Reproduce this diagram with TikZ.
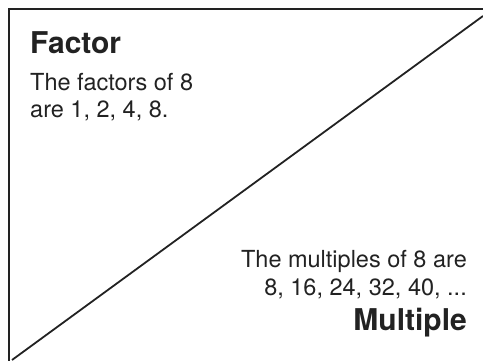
\documentclass[tikz,border=0pt]{standalone}
\usepackage{fontspec}
\setmainfont{TeX Gyre Heros}
\definecolor{ink}{HTML}{222222}
\begin{document}
\begin{tikzpicture}[x=1pt, y=1pt,
        txt/.style={text=ink, font=\fontsize{23.5}{27}\selectfont, inner sep=0pt, align=left},
        ttl/.style={text=ink, font=\fontsize{30}{34}\selectfont\bfseries, inner sep=0pt}]
    \useasboundingbox (0,0) rectangle (483,360);
    \clip (0,0) rectangle (483,360);
    % ── marco y diagonal ──────────────────────────
    \coordinate (bl) at (12,0);
    \coordinate (tr) at (483,344);
    \draw[ink, line width=2.2pt] (9,-5) rectangle (492,351);
    \draw[ink, line width=1.8pt] (bl) -- (tr);
    % ── factor ──────────────────────────
    \node[ttl, anchor=base west] (factor) at (30,307) {Factor};
    \node[txt, anchor=base west] (facA) at (30,270) {The factors of 8};
    \node[txt, anchor=base west] (facB) at (30,243) {are 1, 2, 4, 8.};
    % ── multiple ──────────────────────────
    \node[txt, anchor=base east] (mulA) at (467,93) {The multiples of 8 are};
    \node[txt, anchor=base east] (mulB) at (467,65) {8, 16, 24, 32, 40, ...};
    \node[ttl, anchor=base east] (multiple) at (467,30) {Multiple};
\end{tikzpicture}
\end{document}
